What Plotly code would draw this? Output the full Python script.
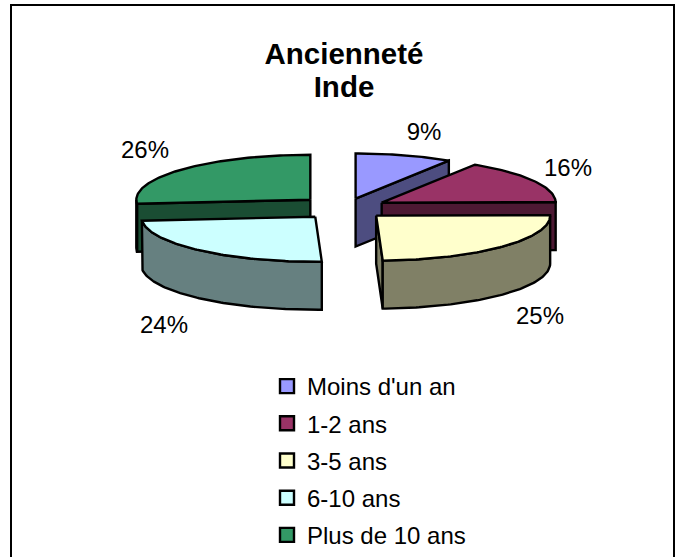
import math
import plotly.graph_objects as go

# Data
categories = ["Moins d'un an", "1-2 ans", "3-5 ans", "6-10 ans", "Plus de 10 ans"]
values = [9.0, 15.8, 24.6, 24.2, 26.4]
title_lines = ["Ancienneté", "Inde"]

# Styles
top_colors = ["#9999FF", "#993366", "#FFFFCC", "#CCFFFF", "#339966"]
wall_colors = ["#4D4D80", "#4D1933", "#808066", "#668080", "#1A4D33"]
explode = [38, 42, 43, 45, 47]
draw_order = [0, 4, 1, 3, 2]
label_pos = [(424, 134), (568, 170), (540, 318), (164, 327), (145, 152)]

W, H = 679, 557
CX, CY = 345, 208
RX, RY, DEPTH = 174, 45, 48
LW = 2.4

total = sum(values)
angles = [0]
for v in values:
    angles.append(angles[-1] + v / total * 360)


def project(ax, ay, deg, z=0):
    t = math.radians(deg)
    return ax + RX * math.sin(t), ay - RY * math.cos(t) + z


def arc(ax, ay, a, b, z=0):
    n = max(2, int(abs(b - a)) + 1)
    return [project(ax, ay, a + (b - a) * i / (n - 1), z) for i in range(n)]


def poly(pts, color):
    xs = [p[0] for p in pts] + [pts[0][0]]
    ys = [p[1] for p in pts] + [pts[0][1]]
    return go.Scatter(x=xs, y=ys, mode="lines", fill="toself", fillcolor=color,
                      line=dict(color="black", width=LW), hoverinfo="skip",
                      showlegend=False)


fig = go.Figure()

for i in draw_order:
    a, b = angles[i], angles[i + 1]
    mid = math.radians((a + b) / 2)
    ax = CX + explode[i] * math.sin(mid)
    ay = CY - explode[i] * math.cos(mid) * RY / RX
    wall = wall_colors[i]
    # start cut wall, visible when it faces the viewer
    if math.sin(math.radians(a)) < -1e-6:
        p = project(ax, ay, a)
        q = project(ax, ay, a, DEPTH)
        fig.add_trace(poly([(ax, ay), p, q, (ax, ay + DEPTH)], wall))
    # end cut wall
    if math.sin(math.radians(b)) > 1e-6:
        p = project(ax, ay, b)
        q = project(ax, ay, b, DEPTH)
        fig.add_trace(poly([(ax, ay), p, q, (ax, ay + DEPTH)], wall))
    # outer rim
    lo, hi = max(a, 90), min(b, 270)
    if hi > lo:
        fig.add_trace(poly(arc(ax, ay, lo, hi) + arc(ax, ay, hi, lo, DEPTH), wall))
    # top face
    fig.add_trace(poly([(ax, ay)] + arc(ax, ay, a, b), top_colors[i]))

# percentage labels
fig.add_trace(go.Scatter(
    x=[p[0] for p in label_pos], y=[p[1] for p in label_pos], mode="text",
    text=[f"{v / total * 100:.0f}%" for v in values],
    textfont=dict(family="Liberation Sans", size=24, color="black"),
    textposition="middle center", hoverinfo="skip", showlegend=False))

# legend
for name, color in zip(categories, top_colors):
    fig.add_trace(go.Scatter(
        x=[None], y=[None], mode="markers", name=name, legendgroup=name,
        marker=dict(symbol="square", size=14, color=color,
                    line=dict(color="black", width=2.4))))

title_html = "<br>".join(f'<span style="font-size:29.5px"><b>{t}</b></span>' for t in title_lines)

fig.update_layout(
    width=W, height=H, autosize=False,
    margin=dict(l=0, r=0, t=0, b=0, autoexpand=False),
    paper_bgcolor="white", plot_bgcolor="white",
    xaxis=dict(range=[0, W], visible=False, fixedrange=True),
    yaxis=dict(range=[H, 0], visible=False, fixedrange=True),
    title=dict(text=title_html, x=344 / W, xanchor="center",
               y=1 - 64 / H, yanchor="top", automargin=False,
               font=dict(family="Liberation Sans", size=25.4, color="black")),
    legend=dict(x=267 / W, y=1 - 364 / H, xanchor="left", yanchor="top",
                bgcolor="rgba(0,0,0,0)", tracegroupgap=3, itemclick=False,
                itemdoubleclick=False,
                font=dict(family="Liberation Sans", size=24, color="black")),
    shapes=[dict(type="rect", x0=11, y0=5, x1=674, y1=H + 10,
                 line=dict(color="black", width=2), fillcolor="rgba(0,0,0,0)", layer="below")],
)

fig.write_html("out.html", config={"displayModeBar": False},
               post_script="document.body.style.margin='0';")
